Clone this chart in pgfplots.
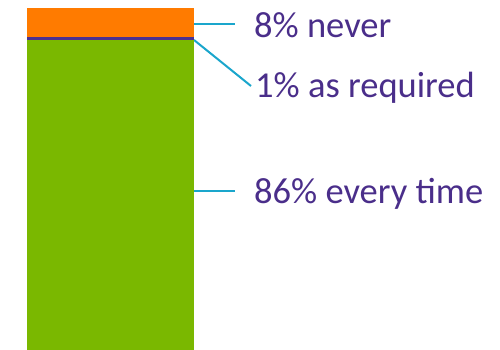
\documentclass[border=0pt]{standalone}
\usepackage{pgfplots}
\pgfplotsset{compat=1.18}
\usepackage{fontspec}
\setmainfont{Carlito}
\definecolor{cOrange}{RGB}{255,123,0}
\definecolor{cGreen}{RGB}{122,184,0}
\definecolor{cPurple}{RGB}{75,49,144}
\definecolor{cText}{RGB}{74,46,138}
\definecolor{cLine}{RGB}{26,166,204}
\tikzset{lbl/.style={anchor=base west, inner sep=0pt, text=cText, font=\fontsize{36.5bp}{40bp}\selectfont}}
\begin{document}
\begin{tikzpicture}
\begin{axis}[
  scale only axis, width=500bp, height=350bp,
  xmin=0, xmax=500, ymin=0, ymax=97.222,
  hide axis, clip=false,
  ybar stacked, bar width=167,
]
\addplot[fill=cGreen, draw=none] coordinates {(110.5,86)};
\addplot[fill=cPurple, draw=none] coordinates {(110.5,1)};
\addplot[fill=cOrange, draw=none] coordinates {(110.5,8)};
\draw[cLine, line width=2bp] (axis cs:194,90.69) -- (axis cs:235,90.69);
\draw[cLine, line width=2bp] (axis cs:194,86.11) -- (axis cs:251,73.33);
\draw[cLine, line width=2bp] (axis cs:194,44.25) -- (axis cs:235,44.25);
\node[lbl] at (axis cs:254,86.67) {8\% never};
\node[lbl] at (axis cs:255,70) {1\% as required};
\node[lbl] at (axis cs:254,40.83) {86\% every time};
\end{axis}
\pgfresetboundingbox
\path (current axis.south west) rectangle (current axis.north east);
\end{tikzpicture}
\end{document}
